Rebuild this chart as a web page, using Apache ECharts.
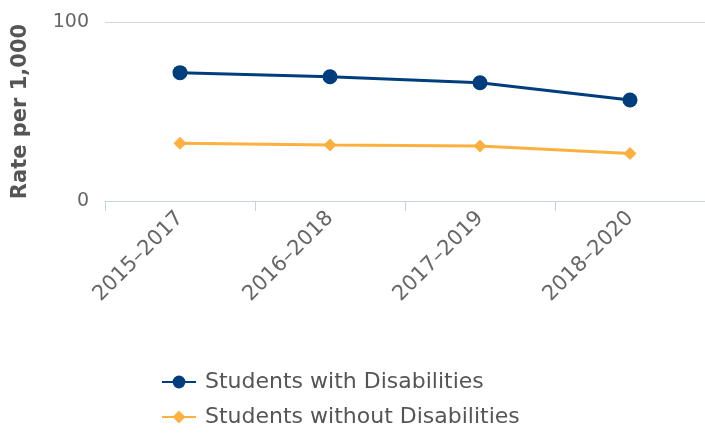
<!DOCTYPE html>
<html>
<head>
<meta charset="utf-8">
<script src="https://cdn.jsdelivr.net/npm/echarts@6/dist/echarts.min.js"></script>
<style>
html,body{margin:0;padding:0;background:#fff;}
#chart{width:705px;height:433px;}
</style>
</head>
<body>
<div id="chart"></div>
<script>
// periods on x axis
var periods = ['2015–2017', '2016–2018', '2017–2019', '2018–2020'];
// rate per 1,000
var withDis = [71.7, 69.4, 66.1, 56.4];
var withoutDis = [32.2, 31.3, 30.7, 26.6];

var myChart = echarts.init(document.getElementById('chart'));
var font = 'DejaVu Sans';
var option = {
	animation: false,
	textStyle: {fontFamily: font},
	grid: {left: 105, right: -4, top: 22, bottom: 232},
	legend: {
		orient: 'vertical',
		left: 156,
		top: 366,
		height: 120,
		itemGap: 13,
		itemWidth: 34,
		itemHeight: 16,
		textStyle: {fontSize: 22, color: '#555', fontFamily: font, padding: [0, 0, 0, 4]},
		data: ['Students with Disabilities', 'Students without Disabilities']
	},
	xAxis: {
		type: 'category',
		data: periods,
		axisLine: {lineStyle: {color: '#c4d3e3'}},
		axisTick: {show: true, length: 10, lineStyle: {color: '#c4d3e3'}},
		axisLabel: {rotate: 45, color: '#666', fontSize: 21, margin: 14}
	},
	yAxis: {
		type: 'value',
		min: 0,
		max: 100,
		interval: 100,
		name: 'Rate per 1,000',
		nameLocation: 'middle',
		nameGap: 74,
		nameTextStyle: {fontSize: 21, fontWeight: 'bold', color: '#555'},
		axisLabel: {color: '#666', fontSize: 19, margin: 16},
		splitLine: {lineStyle: {color: '#d8d8d8'}}
	},
	series: [{
		name: 'Students with Disabilities',
		type: 'line',
		data: withDis,
		symbol: 'circle',
		symbolSize: 15,
		lineStyle: {color: '#003d7c', width: 3},
		itemStyle: {color: '#003d7c'}
	}, {
		name: 'Students without Disabilities',
		type: 'line',
		data: withoutDis,
		symbol: 'diamond',
		symbolSize: 13,
		lineStyle: {color: '#fcb040', width: 3},
		itemStyle: {color: '#fcb040'}
	}]
};
myChart.setOption(option);
</script>
</body>
</html>
